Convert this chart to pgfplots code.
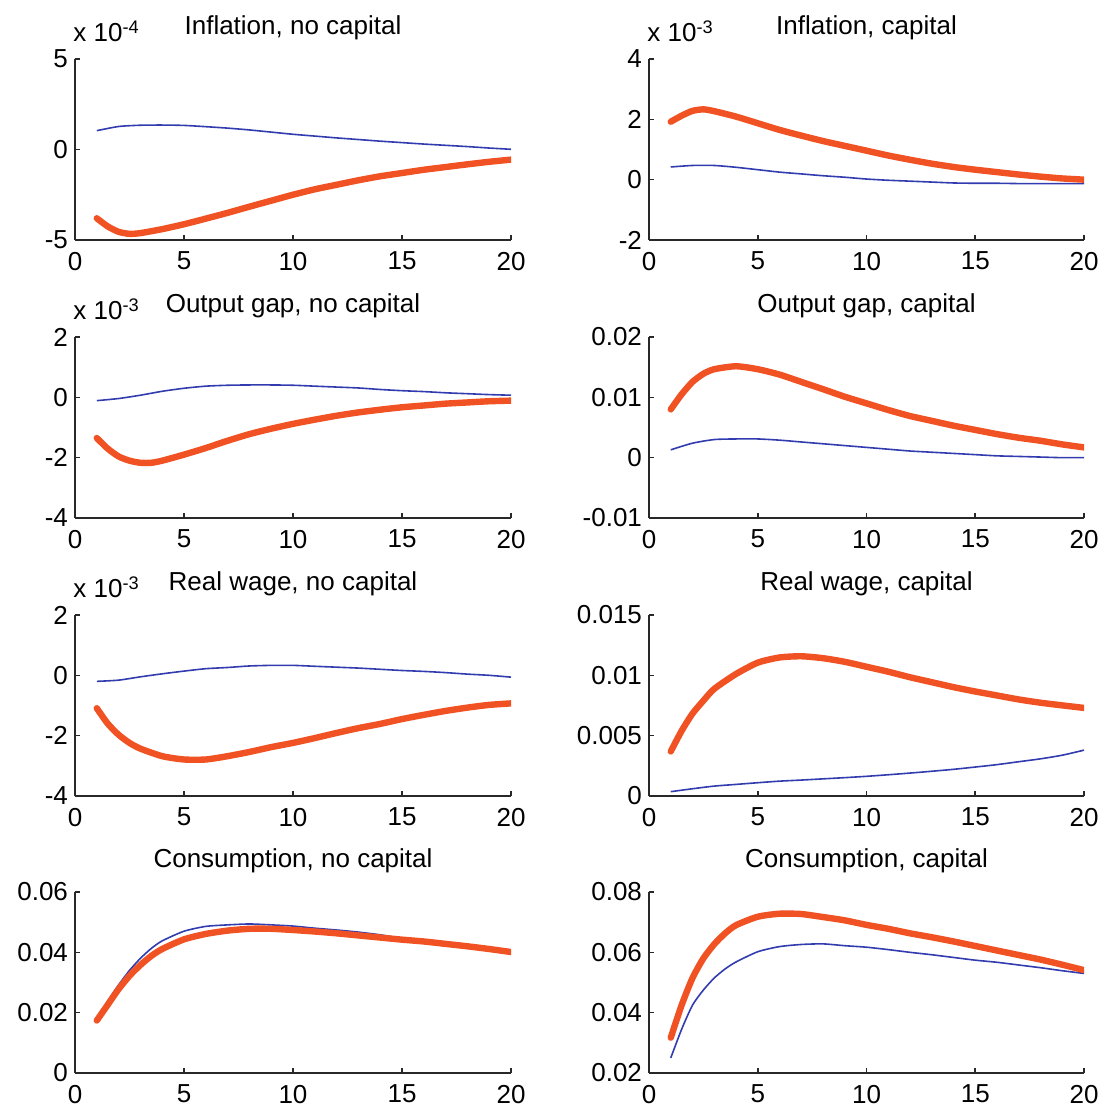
\documentclass[border=0pt]{standalone}
\usepackage{fontspec}
\setmainfont{Liberation Sans}
\usepackage{pgfplots}
\pgfplotsset{compat=1.18}
\definecolor{mred}{RGB}{240,82,35}
\definecolor{mblue}{RGB}{50,60,175}
\definecolor{axgray}{RGB}{40,40,40}
\pgfplotsset{
 mstyle/.style={
  scale only axis, height=90.5pt, anchor=south west,
  axis lines*=left, axis line style={axgray, line width=0.9pt},
  xmin=0, xmax=20, xtick={0,5,10,15,20}, xticklabels={0,5,10,15,20},
  tick align=inside, major tick length=2.5pt, tick style={axgray, line width=0.8pt},
  scaled y ticks=false, scaled x ticks=false,
  clip mode=individual,
  font=\fontsize{13}{15}\selectfont,
  xticklabel style={yshift=-2.5pt},
  every axis title shift=0pt,
  title style={at={(0.5,1)}, anchor=base, yshift=12pt, font=\fontsize{13}{15}\selectfont},
 },
 leftcol/.style={mstyle, width=218pt},
 rightcol/.style={mstyle, width=217.5pt},
 redline/.style={mred, line width=3.2pt, line join=round, line cap=round, smooth, tension=0.4},
 blueline/.style={mblue, line width=0.8pt, smooth, tension=0.4},
}
\newcommand{\scalelab}[1]{\node[anchor=base west, inner sep=0pt, font=\fontsize{13}{15}\selectfont] at (rel axis cs:0,1) [yshift=8.5pt, xshift=-1pt] {x 10\textsuperscript{#1}};}
\begin{document}
\begin{tikzpicture}
\useasboundingbox (0,0) rectangle (552.5pt,556.5pt);
% Row 1 left
\begin{axis}[leftcol, at={(37.5pt,436.5pt)}, title={Inflation, no capital},
  ymin=-5e-4, ymax=5e-4, ytick={-5e-4,0,5e-4}, yticklabels={-5,0,5}]
\addplot[blueline] coordinates {(1,1.04e-4)(2,1.27e-4)(3,1.34e-4)(4,1.35e-4)(5,1.33e-4)(6,1.26e-4)(7,1.18e-4)(8,1.08e-4)(9,0.96e-4)(10,0.84e-4)(11,0.74e-4)(12,0.64e-4)(13,0.55e-4)(14,0.46e-4)(15,0.38e-4)(16,0.30e-4)(17,0.23e-4)(18,0.16e-4)(19,0.08e-4)(20,0.01e-4)};
\addplot[redline] coordinates {(1,-3.8e-4)(1.5,-4.25e-4)(2,-4.55e-4)(2.5,-4.66e-4)(3,-4.62e-4)(4,-4.4e-4)(5,-4.13e-4)(6,-3.82e-4)(7,-3.5e-4)(8,-3.16e-4)(9,-2.83e-4)(10,-2.5e-4)(11,-2.2e-4)(12,-1.95e-4)(13,-1.7e-4)(14,-1.48e-4)(15,-1.3e-4)(16,-1.12e-4)(17,-0.97e-4)(18,-0.82e-4)(19,-0.68e-4)(20,-0.56e-4)};
\scalelab{-4}
\end{axis}
% Row 1 right
\begin{axis}[rightcol, at={(324.5pt,436.5pt)}, title={Inflation, capital},
  ymin=-2e-3, ymax=4e-3, ytick={-2e-3,0,2e-3,4e-3}, yticklabels={-2,0,2,4}]
\addplot[blueline] coordinates {(1,0.42e-3)(2,0.47e-3)(3,0.47e-3)(4,0.41e-3)(5,0.33e-3)(6,0.25e-3)(7,0.19e-3)(8,0.13e-3)(9,0.08e-3)(10,0.02e-3)(11,-0.02e-3)(12,-0.05e-3)(13,-0.08e-3)(14,-0.11e-3)(15,-0.12e-3)(16,-0.12e-3)(17,-0.13e-3)(18,-0.13e-3)(19,-0.13e-3)(20,-0.13e-3)};
\addplot[redline] coordinates {(1,1.92e-3)(1.5,2.12e-3)(2,2.28e-3)(2.5,2.33e-3)(3,2.27e-3)(4,2.09e-3)(5,1.87e-3)(6,1.65e-3)(7,1.46e-3)(8,1.28e-3)(9,1.12e-3)(10,0.96e-3)(11,0.80e-3)(12,0.66e-3)(13,0.53e-3)(14,0.42e-3)(15,0.33e-3)(16,0.25e-3)(17,0.17e-3)(18,0.10e-3)(19,0.04e-3)(20,0.0)};
\scalelab{-3}
\end{axis}
% Row 2 left
\begin{axis}[leftcol, at={(37.5pt,297.5pt)}, title={Output gap, no capital},
  ymin=-4e-3, ymax=2e-3, ytick={-4e-3,-2e-3,0,2e-3}, yticklabels={-4,-2,0,2}]
\addplot[blueline] coordinates {(1,-0.11e-3)(2,-0.04e-3)(3,0.07e-3)(4,0.2e-3)(5,0.3e-3)(6,0.37e-3)(7,0.40e-3)(8,0.41e-3)(9,0.41e-3)(10,0.40e-3)(11,0.37e-3)(12,0.34e-3)(13,0.31e-3)(14,0.26e-3)(15,0.22e-3)(16,0.19e-3)(17,0.15e-3)(18,0.12e-3)(19,0.09e-3)(20,0.07e-3)};
\addplot[redline] coordinates {(1,-1.35e-3)(1.5,-1.7e-3)(2,-1.96e-3)(2.5,-2.1e-3)(3,-2.17e-3)(3.5,-2.17e-3)(4,-2.1e-3)(5,-1.9e-3)(6,-1.68e-3)(7,-1.44e-3)(8,-1.22e-3)(9,-1.04e-3)(10,-0.88e-3)(11,-0.74e-3)(12,-0.61e-3)(13,-0.50e-3)(14,-0.41e-3)(15,-0.33e-3)(16,-0.27e-3)(17,-0.21e-3)(18,-0.17e-3)(19,-0.13e-3)(20,-0.11e-3)};
\scalelab{-3}
\end{axis}
% Row 2 right
\begin{axis}[rightcol, at={(324.5pt,297.5pt)}, title={Output gap, capital},
  ymin=-0.01, ymax=0.02, ytick={-0.01,0,0.01,0.02}, yticklabels={-0.01,0,0.01,0.02}]
\addplot[blueline] coordinates {(1,0.0013)(2,0.0024)(3,0.0030)(4,0.0031)(5,0.0031)(6,0.0029)(7,0.0026)(8,0.0023)(9,0.002)(10,0.0017)(11,0.0014)(12,0.0011)(13,0.0009)(14,0.0007)(15,0.0005)(16,0.0003)(17,0.0002)(18,0.0001)(19,0.0)(20,0.0)};
\addplot[redline] coordinates {(1,0.0080)(1.5,0.0105)(2,0.01256)(2.5,0.0139)(3,0.01466)(4,0.01515)(5,0.01466)(6,0.01377)(7,0.01256)(8,0.01135)(9,0.0101)(10,0.0090)(11,0.0079)(12,0.0069)(13,0.0061)(14,0.0053)(15,0.0046)(16,0.0039)(17,0.0033)(18,0.0028)(19,0.0022)(20,0.0017)};
\end{axis}
% Row 3 left
\begin{axis}[leftcol, at={(37.5pt,158.5pt)}, title={Real wage, no capital},
  ymin=-4e-3, ymax=2e-3, ytick={-4e-3,-2e-3,0,2e-3}, yticklabels={-4,-2,0,2}]
\addplot[blueline] coordinates {(1,-0.2e-3)(2,-0.16e-3)(3,-0.05e-3)(4,0.05e-3)(5,0.14e-3)(6,0.22e-3)(7,0.26e-3)(8,0.31e-3)(9,0.33e-3)(10,0.33e-3)(11,0.30e-3)(12,0.27e-3)(13,0.24e-3)(14,0.2e-3)(15,0.16e-3)(16,0.13e-3)(17,0.09e-3)(18,0.04e-3)(19,0.0)(20,-0.06e-3)};
\addplot[redline] coordinates {(1,-1.09e-3)(1.5,-1.6e-3)(2,-1.97e-3)(2.5,-2.24e-3)(3,-2.43e-3)(4,-2.68e-3)(5,-2.79e-3)(6,-2.79e-3)(7,-2.68e-3)(8,-2.54e-3)(9,-2.38e-3)(10,-2.24e-3)(11,-2.08e-3)(12,-1.91e-3)(13,-1.75e-3)(14,-1.61e-3)(15,-1.45e-3)(16,-1.31e-3)(17,-1.18e-3)(18,-1.07e-3)(19,-0.98e-3)(20,-0.93e-3)};
\scalelab{-3}
\end{axis}
% Row 3 right
\begin{axis}[rightcol, at={(324.5pt,158.5pt)}, title={Real wage, capital},
  ymin=0, ymax=0.015, ytick={0,0.005,0.01,0.015}, yticklabels={0,0.005,0.01,0.015}]
\addplot[blueline] coordinates {(1,0.00036)(2,0.0006)(3,0.00082)(4,0.00096)(5,0.0011)(6,0.00123)(7,0.00132)(8,0.00142)(9,0.00152)(10,0.00163)(11,0.00176)(12,0.0019)(13,0.00205)(14,0.00221)(15,0.0024)(16,0.0026)(17,0.00284)(18,0.00308)(19,0.00338)(20,0.0038)};
\addplot[redline] coordinates {(1,0.00369)(1.5,0.0054)(2,0.00683)(2.5,0.0079)(3,0.00888)(4,0.01011)(5,0.01105)(6,0.01148)(7,0.01158)(8,0.01142)(9,0.01112)(10,0.01071)(11,0.0103)(12,0.00984)(13,0.00943)(14,0.00902)(15,0.00866)(16,0.00833)(17,0.008)(18,0.00773)(19,0.00751)(20,0.0073)};
\end{axis}
% Row 4 left
\begin{axis}[leftcol, at={(37.5pt,20pt)}, title={Consumption, no capital},
  ymin=0, ymax=0.06, ytick={0,0.02,0.04,0.06}, yticklabels={0,0.02,0.04,0.06}]
\addplot[blueline] coordinates {(1,0.0178)(1.5,0.0238)(2,0.0292)(2.5,0.034)(3,0.038)(3.5,0.0413)(4,0.0438)(5,0.047)(6,0.0486)(7,0.0491)(8,0.0494)(9,0.0491)(10,0.0487)(11,0.048)(12,0.0474)(13,0.0467)(14,0.0458)(15,0.0446)(16,0.0438)(17,0.043)(18,0.0422)(19,0.0413)(20,0.0403)};
\addplot[redline] coordinates {(1,0.0174)(1.5,0.0226)(2,0.0278)(2.5,0.0322)(3,0.0358)(3.5,0.0388)(4,0.0411)(5,0.0443)(6,0.0461)(7,0.0472)(8,0.0478)(9,0.0478)(10,0.0474)(11,0.0469)(12,0.0463)(13,0.0456)(14,0.0449)(15,0.0442)(16,0.0436)(17,0.0428)(18,0.042)(19,0.0411)(20,0.0401)};
\end{axis}
% Row 4 right
\begin{axis}[rightcol, at={(324.5pt,20pt)}, title={Consumption, capital},
  ymin=0.02, ymax=0.08, ytick={0.02,0.04,0.06,0.08}, yticklabels={0.02,0.04,0.06,0.08}]
\addplot[blueline] coordinates {(1,0.025)(1.5,0.0345)(2,0.0425)(2.5,0.0475)(3,0.0515)(3.5,0.0545)(4,0.0568)(5,0.0602)(6,0.0619)(7,0.0626)(8,0.0628)(9,0.0622)(10,0.0617)(11,0.0609)(12,0.06)(13,0.0592)(14,0.0583)(15,0.0574)(16,0.0567)(17,0.0558)(18,0.0549)(19,0.0539)(20,0.053)};
\addplot[redline] coordinates {(1,0.0317)(1.5,0.0425)(2,0.0515)(2.5,0.058)(3,0.0627)(3.5,0.0663)(4,0.069)(5,0.0718)(6,0.0728)(7,0.0727)(8,0.0717)(9,0.0706)(10,0.0691)(11,0.0678)(12,0.0663)(13,0.065)(14,0.0636)(15,0.0621)(16,0.0606)(17,0.0591)(18,0.0576)(19,0.0559)(20,0.0541)};
\end{axis}
\end{tikzpicture}
\end{document}
